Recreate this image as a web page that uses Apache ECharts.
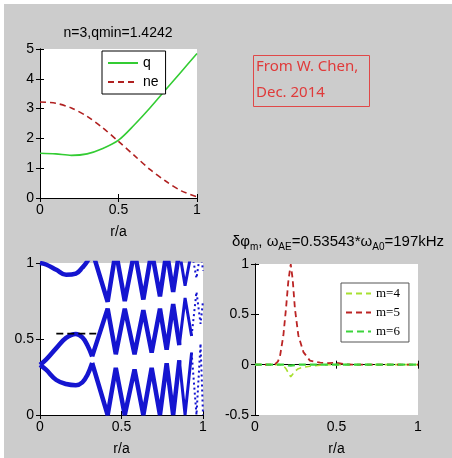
<!DOCTYPE html>
<html>
<head>
<meta charset="utf-8">
<script src="https://cdn.jsdelivr.net/npm/echarts@6/dist/echarts.min.js"></script>
<style>
  html, body { margin: 0; padding: 0; background: #fff; }
  #chart {
    width: 452px; height: 458px;
    background:
      linear-gradient(#fff, #fff) top left / 100% 4px no-repeat,
      linear-gradient(#fff, #fff) top left / 4px 100% no-repeat,
      #cccccc;
  }
</style>
</head>
<body>
<div id="chart"></div>
<script>
// profiles (top left)
const rProf = [0, 0.1, 0.2, 0.3, 0.4, 0.5, 0.6, 0.7, 0.8, 0.9, 1.0];
const qVals = [1.50, 1.48, 1.43, 1.48, 1.66, 1.94, 2.45, 3.02, 3.63, 4.24, 4.85];
const neVals = [3.22, 3.18, 3.02, 2.74, 2.35, 1.90, 1.43, 0.96, 0.57, 0.24, 0.04];

// continuum (bottom left), three branches read at the same radii
const contR = [0, 0.037, 0.1, 0.16, 0.22, 0.26, 0.29, 0.32, 0.415, 0.465, 0.52, 0.58,
  0.634, 0.685, 0.736, 0.777, 0.817, 0.855, 0.89, 0.93, 0.96, 0.985, 1.0];
const lowBand = [0.33, 0.298, 0.23, 0.204, 0.196, 0.215, 0.262, 0.342, 0, 0.31, 0, 0.30,
  0, 0.31, 0, 0.34, 0, 0.36, 0, 0.41, 0, 0.47, 0];
const midBand = [0.33, 0.364, 0.44, 0.507, 0.533, 0.51, 0.46, 0.386, 0.70, 0.40, 0.70, 0.40,
  0.69, 0.41, 0.70, 0.43, 0.73, 0.46, 0.77, 0.52, 0.81, 0.60, 0.75];
const topBand = [1.0, 0.99, 0.955, 0.922, 0.93, 0.97, 1.01, 1.08, 0.745, 1.08, 0.75, 1.08,
  0.76, 1.08, 0.78, 1.08, 0.81, 1.08, 0.85, 1.08, 0.90, 1.08, 0.95];
const taeR = [0.10, 0.345];
const taeFreq = [0.5354, 0.5354];

// mode structure (bottom right)
const modeR = [0, 0.1, 0.123, 0.14, 0.153, 0.174, 0.19, 0.204, 0.219, 0.231, 0.245, 0.266,
  0.297, 0.337, 0.4, 0.45, 0.5, 0.55, 0.6, 0.8, 1.0];
const m4 = [0, 0, 0, 0, 0, -0.01, -0.04, -0.08, -0.12, -0.095, -0.065, -0.04,
  -0.025, -0.015, -0.005, 0, 0, 0, 0, 0, 0];
const m5 = [0, 0, 0.005, 0.03, 0.08, 0.29, 0.555, 0.82, 1.0, 0.85, 0.555, 0.29,
  0.125, 0.04, 0.02, 0.015, 0.02, 0.005, 0, 0, 0];
const m6 = [0, 0, 0, 0, 0, 0, -0.004, -0.008, -0.01, -0.008, -0.004, 0,
  0, 0, 0, 0, 0, 0, 0, 0, 0];

const FONT = "'Liberation Sans', Arial, sans-serif";
const pair = (xs, ys, a, b) => xs.slice(a, b).map((x, i) => [x, ys.slice(a, b)[i]]);

const grids = [
  { left: 40, top: 49, width: 157, height: 149 },
  { left: 40, top: 263, width: 163, height: 152 },
  { left: 255, top: 264, width: 163, height: 151 }
];
const yRanges = [[0, 5, 1], [0, 1, 0.5], [-0.5, 1, 0.5]];

let xAxes = [], yAxes = [];
grids.forEach((g, i) => {
  const line = { show: true, lineStyle: { color: '#000', width: 1 } };
  const tick = { show: true, inside: true, length: 4, lineStyle: { color: '#000' } };
  xAxes.push({
    gridIndex: i, type: 'value', min: 0, max: 1, interval: 0.5,
    axisLine: line, axisTick: tick, splitLine: { show: false },
    axisLabel: { color: '#000', fontSize: 14, fontFamily: FONT, margin: 5 },
    name: 'r/a', nameLocation: 'middle', nameGap: 27,
    nameTextStyle: { color: '#000', fontSize: 14, fontFamily: FONT }
  });
  xAxes.push({
    gridIndex: i, type: 'value', min: 0, max: 1, interval: 0.5, position: 'top',
    axisLine: line, axisTick: tick, axisLabel: { show: false }, splitLine: { show: false }
  });
  yAxes.push({
    gridIndex: i, type: 'value', min: yRanges[i][0], max: yRanges[i][1], interval: yRanges[i][2],
    axisLine: line, axisTick: tick, splitLine: { show: false },
    axisLabel: { color: '#000', fontSize: 14, fontFamily: FONT, margin: 6 }
  });
  yAxes.push({
    gridIndex: i, type: 'value', min: yRanges[i][0], max: yRanges[i][1], interval: yRanges[i][2],
    position: 'right', axisLine: line, axisTick: tick,
    axisLabel: { show: false }, splitLine: { show: false }
  });
});

const BLUE = '#1515d0';
function bandSeries(vals) {
  return [
    { a: 0, b: 8, smooth: 0.4, width: 4.5, type: 'solid' },
    { a: 7, b: 18, smooth: false, width: 4.5, type: 'solid' },
    { a: 17, b: 20, smooth: false, width: 3, type: 'solid' },
    { a: 19, b: 23, smooth: false, width: 2, type: [2, 3] }
  ].map(p => ({
    type: 'line', xAxisIndex: 2, yAxisIndex: 2, symbol: 'none', smooth: p.smooth,
    data: pair(contR, vals, p.a, p.b),
    lineStyle: { color: BLUE, width: p.width, type: p.type }
  }));
}

const series = [
  {
    name: 'q', type: 'line', xAxisIndex: 0, yAxisIndex: 0, symbol: 'none', smooth: 0.3,
    data: pair(rProf, qVals, 0, rProf.length),
    itemStyle: { color: '#33cc33' },
    lineStyle: { color: '#33cc33', width: 1.6 }
  },
  {
    name: 'ne', type: 'line', xAxisIndex: 0, yAxisIndex: 0, symbol: 'none', smooth: 0.3,
    data: pair(rProf, neVals, 0, rProf.length),
    itemStyle: { color: '#b02020' },
    lineStyle: { color: '#b02020', width: 1.6, type: [6, 4] }
  },
  ...bandSeries(lowBand),
  ...bandSeries(midBand),
  ...bandSeries(topBand),
  {
    type: 'line', xAxisIndex: 2, yAxisIndex: 2, symbol: 'none',
    data: pair(taeR, taeFreq, 0, 2),
    lineStyle: { color: '#000', width: 1.6, type: [7, 4] }, z: 5
  },
  {
    name: 'm=4', type: 'line', xAxisIndex: 4, yAxisIndex: 4, symbol: 'none',
    data: pair(modeR, m4, 0, modeR.length),
    itemStyle: { color: '#a8e030' },
    lineStyle: { color: '#a8e030', width: 1.6, type: [6, 4] }
  },
  {
    name: 'm=5', type: 'line', xAxisIndex: 4, yAxisIndex: 4, symbol: 'none',
    data: pair(modeR, m5, 0, modeR.length),
    itemStyle: { color: '#bb2424' },
    lineStyle: { color: '#bb2424', width: 1.8, type: [6, 4] }
  },
  {
    name: 'm=6', type: 'line', xAxisIndex: 4, yAxisIndex: 4, symbol: 'none',
    data: pair(modeR, m6, 0, modeR.length),
    itemStyle: { color: '#3cd43c' },
    lineStyle: { color: '#3cd43c', width: 2.2, type: [7, 4] }
  }
];

const chart = echarts.init(document.getElementById('chart'));
chart.setOption({
  backgroundColor: 'transparent',
  animation: false,
  grid: grids.map(g => Object.assign({ show: true, backgroundColor: '#fff', borderWidth: 0 }, g)),
  xAxis: xAxes,
  yAxis: yAxes,
  legend: [
    {
      data: ['q', 'ne'], orient: 'vertical', left: 102, top: 51,
      itemWidth: 30, itemHeight: 14, itemGap: 5, padding: [5, 7, 5, 5],
      backgroundColor: '#fff', borderColor: '#000', borderWidth: 1,
      itemStyle: { opacity: 0 },
      textStyle: { color: '#000', fontSize: 14, fontFamily: FONT }
    },
    {
      data: ['m=4', 'm=5', 'm=6'], orient: 'vertical', left: 341, top: 283,
      itemWidth: 25, itemHeight: 12, itemGap: 6, padding: [4, 9, 4, 4],
      backgroundColor: '#fff', borderColor: '#555', borderWidth: 1,
      itemStyle: { opacity: 0 },
      textStyle: { color: '#000', fontSize: 13, fontFamily: "'Liberation Serif', 'Times New Roman', serif" }
    }
  ],
  graphic: [
    {
      type: 'text', x: 118, y: 33,
      style: { text: 'n=3,qmin=1.4242', fill: '#000', font: '14px ' + FONT, align: 'center', verticalAlign: 'middle' }
    },
    {
      type: 'text', x: 338, y: 243,
      style: {
        text: '{n|δφ}{s|m}{n|, ω}{s|AE}{n|=0.53543*ω}{s|A0}{n|=197kHz}',
        align: 'center', verticalAlign: 'middle',
        rich: {
          n: { fontSize: 15, fontFamily: FONT, color: '#000', lineHeight: 18, verticalAlign: 'top' },
          s: { fontSize: 10, fontFamily: FONT, color: '#000', lineHeight: 10, padding: [8, 0, 0, 0], verticalAlign: 'top' }
        }
      }
    },
    {
      type: 'rect', shape: { x: 253.5, y: 55.5, width: 116, height: 51 },
      style: { fill: null, stroke: '#e04848', lineWidth: 1 }
    },
    {
      type: 'text', x: 256, y: 67,
      style: { text: 'From W. Chen,', fill: '#e03a3a', font: "15px 'Noto Sans', sans-serif", verticalAlign: 'middle' }
    },
    {
      type: 'text', x: 256, y: 93,
      style: { text: 'Dec. 2014', fill: '#e03a3a', font: "15px 'Noto Sans', sans-serif", verticalAlign: 'middle' }
    }
  ],
  series: series
});
</script>
</body>
</html>
